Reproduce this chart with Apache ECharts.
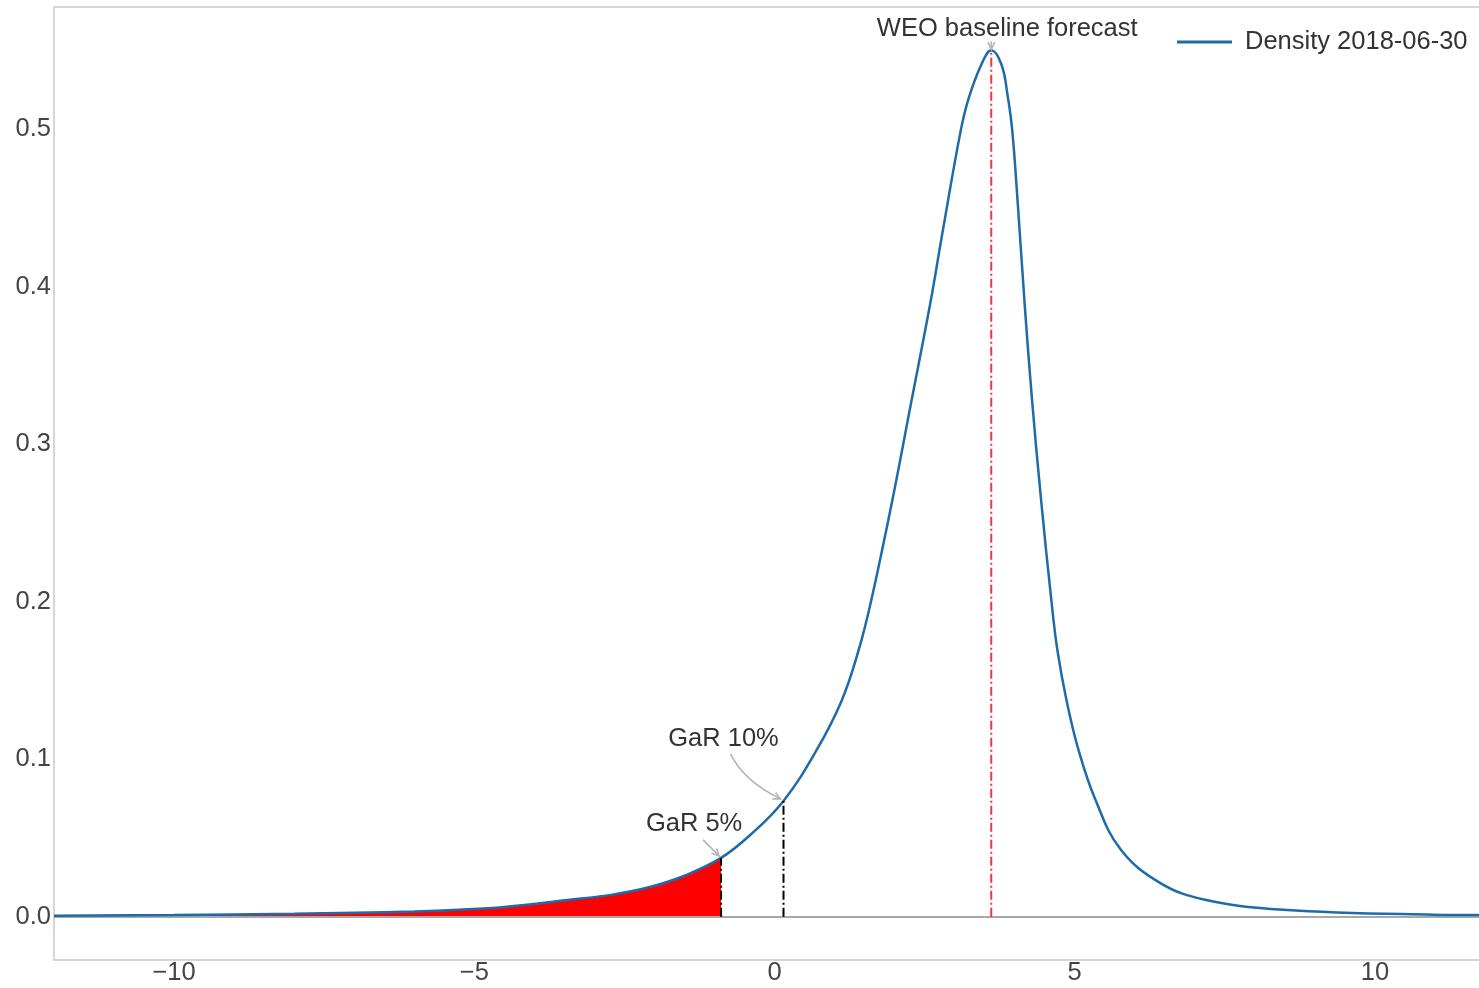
<!DOCTYPE html>
<html>
<head>
<meta charset="utf-8">
<script src="https://cdn.jsdelivr.net/npm/echarts@6/dist/echarts.min.js"></script>
<style>
html,body{margin:0;padding:0;background:#fff;overflow:hidden}
#c{width:1479px;height:988px}
</style>
</head>
<body>
<div id="c"></div>
<script>
// ---- data ----
const densityX = [-12, -10, -8, -7, -6, -5.26, -4.5, -3.41, -2.7, -2.06, -1.5, -0.89, -0.4, 0.15, 0.7, 1.12, 1.40, 1.61, 1.96, 2.28, 2.6, 2.8, 3.1, 3.23, 3.44, 3.61, 3.78, 3.88, 3.96, 4.06, 4.17, 4.29, 4.44, 4.61, 4.71, 4.86, 5.06, 5.34, 5.76, 6.42, 7.17, 8.47, 10.97, 12];
const densityY = [0.0006, 0.0010, 0.0018, 0.0025, 0.0033, 0.0044, 0.0062, 0.0108, 0.014, 0.019, 0.026, 0.0373, 0.052, 0.0735, 0.1057, 0.1373, 0.169, 0.2006, 0.2639, 0.3272, 0.3905, 0.4348, 0.4987, 0.519, 0.5405, 0.55, 0.541, 0.522, 0.499, 0.448, 0.387, 0.3278, 0.2646, 0.2013, 0.1696, 0.138, 0.1063, 0.0747, 0.043, 0.0215, 0.0108, 0.0044, 0.0013, 0.0010];
const weoX = 3.61, weoY = 0.55;
const gar10X = 0.15, gar10Y = 0.0735;
const gar5X = -0.89, gar5Y = 0.0373;
const xMin = -12, xMax = 12;
const yMin = -0.0275, yMax = 0.5775;
const xTicks = [-10, -5, 0, 5, 10];
const yTicks = [0, 0.1, 0.2, 0.3, 0.4, 0.5];
const legendLabel = 'Density 2018-06-30';
const weoText = 'WEO baseline forecast';
const gar10Text = 'GaR 10%';
const gar5Text = 'GaR 5%';

// ---- build ----
const densityPts = densityX.map((x, i) => [x, densityY[i]]);
const fillPts = densityPts.filter(p => p[0] <= gar5X);
const FONT = '"Liberation Sans", Arial, sans-serif';
const BLUE = '#1f6aa8';
const SMOOTH = 0.4;

const chart = echarts.init(document.getElementById('c'), null, {renderer: 'canvas'});

const vline = (name, x, y, color) => ({
  name, type: 'line', data: [[x, 0], [x, y]], symbol: 'none', silent: true, z: 4,
  lineStyle: {color, width: 2, type: [9, 3, 2, 3]}
});

chart.setOption({
  animation: false,
  backgroundColor: '#fff',
  textStyle: {fontFamily: FONT},
  grid: {left: 54, right: -16, top: 7, bottom: 28, show: true, borderColor: '#d6d6d6', borderWidth: 2, outerBoundsMode: 'none', containLabel: false},
  legend: {
    data: [{name: legendLabel, icon: 'rect'}], left: 1172, top: 24, itemWidth: 55, itemHeight: 3, itemGap: 10,
    textStyle: {fontSize: 25.5, color: '#333', fontFamily: FONT, padding: [0, 0, 0, 8]}
  },
  xAxis: {
    type: 'value', min: xMin, max: xMax,
    axisLine: {show: false}, axisTick: {show: false}, splitLine: {show: false},
    axisLabel: {
      customValues: xTicks, fontSize: 25.5, color: '#444', margin: 0, fontFamily: FONT,
      formatter: v => (v < 0 ? '\u2212' + Math.abs(v) : String(v))
    }
  },
  yAxis: {
    type: 'value', min: yMin, max: yMax,
    axisLine: {show: false}, axisTick: {show: false}, splitLine: {show: false},
    axisLabel: {
      customValues: yTicks, fontSize: 25.5, color: '#444', margin: 3, fontFamily: FONT,
      formatter: v => Number(v).toFixed(1)
    }
  },
  series: [
    {
      name: 'fill', type: 'line', data: fillPts, smooth: SMOOTH, symbol: 'none', silent: true, z: 1,
      lineStyle: {width: 0}, areaStyle: {color: '#ff0000', opacity: 1}
    },
    {
      name: legendLabel, type: 'line', data: densityPts, smooth: SMOOTH, symbol: 'none', z: 3,
      color: BLUE, lineStyle: {color: BLUE, width: 2.5},
      markLine: {
        silent: true, symbol: ['none', 'none'], label: {show: false}, z: 2,
        lineStyle: {color: '#a8a8a8', width: 2, type: 'solid'},
        data: [{yAxis: 0}]
      }
    },
    vline('weo', weoX, weoY, 'rgba(232,20,40,0.85)'),
    vline('gar10', gar10X, gar10Y, '#000'),
    vline('gar5', gar5X, gar5Y, '#000')
  ]
});

// ---- annotations (anchored to data via the chart's own scales) ----
const toPx = (x, y) => chart.convertToPixel({gridIndex: 0}, [x, y]);
const pW = toPx(weoX, weoY), p10 = toPx(gar10X, gar10Y), p5 = toPx(gar5X, gar5Y);
const txt = (s, x, y) => ({type: 'text', x, y, z: 10, style: {text: s, fill: '#333', font: '25.5px ' + FONT, align: 'center', verticalAlign: 'middle'}});
function arrow(x1, y1, cx, cy, x2, y2) {
  const ang = Math.atan2(y2 - cy, x2 - cx), L = 8, W = 0.45;
  const a1 = [x2 - L * Math.cos(ang - W), y2 - L * Math.sin(ang - W)];
  const a2 = [x2 - L * Math.cos(ang + W), y2 - L * Math.sin(ang + W)];
  return [
    {type: 'bezierCurve', z: 10, shape: {x1, y1, x2, y2, cpx1: cx, cpy1: cy}, style: {stroke: '#b5b5b5', lineWidth: 1.6, fill: null}},
    {type: 'polyline', z: 10, shape: {points: [a1, [x2, y2], a2]}, style: {stroke: '#b5b5b5', lineWidth: 1.6, fill: null}}
  ];
}
chart.setOption({
  graphic: [
    txt(weoText, pW[0] + 16, pW[1] - 21),
    ...arrow(pW[0], pW[1] - 9, pW[0], pW[1] - 5, pW[0], pW[1] - 1),
    txt(gar10Text, p10[0] - 60, p10[1] - 62),
    ...arrow(p10[0] - 53, p10[1] - 47, p10[0] - 40, p10[1] - 20, p10[0] - 3, p10[1] - 2),
    txt(gar5Text, p5[0] - 27, p5[1] - 34),
    ...arrow(p5[0] - 18, p5[1] - 18, p5[0] - 10, p5[1] - 10, p5[0] - 2, p5[1] - 2)
  ]
});
</script>
</body>
</html>
